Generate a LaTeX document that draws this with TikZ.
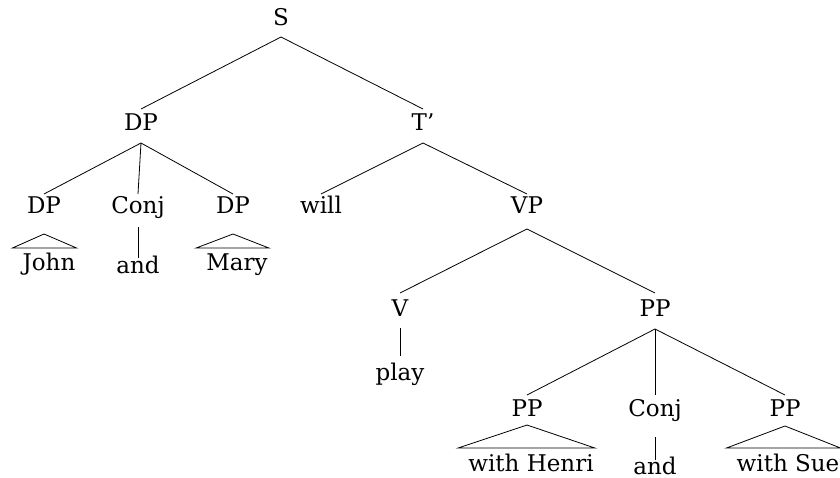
\documentclass[tikz,border=0pt]{standalone}
\usepackage{fontspec}
\setmainfont{DejaVu Serif}
\begin{document}
\begin{tikzpicture}[x=1pt,y=-1pt,
  lbl/.style={anchor=base,inner sep=0pt,font=\fontsize{23}{28}\selectfont},
  edge/.style={line width=0.8pt}]
\useasboundingbox (0,0) rectangle (840,478);
% labels
\node[lbl] (S) at (281,26) {S};
\node[lbl] (DP) at (141,131) {DP};
\node[lbl] (Tb) at (423,131) {T'};
\node[lbl] (DPa) at (44,214) {DP};
\node[lbl] (ConjA) at (138,214) {Conj};
\node[lbl] (DPb) at (233,214) {DP};
\node[lbl] (will) at (321,214) {will};
\node[lbl] (VP) at (527,214) {VP};
\node[lbl] (John) at (49,270) {John};
\node[lbl] (andA) at (138,273) {and};
\node[lbl] (Mary) at (237,270) {Mary};
\node[lbl] (V) at (400,316) {V};
\node[lbl] (PP) at (655,316) {PP};
\node[lbl] (play) at (400,380) {play};
\node[lbl] (PPa) at (527,416) {PP};
\node[lbl] (ConjB) at (655,416) {Conj};
\node[lbl] (PPb) at (785,416) {PP};
\node[lbl] (Henri) at (531,471) {with Henri};
\node[lbl] (andB) at (655,474) {and};
\node[lbl] (Sue) at (788,471) {with Sue};
% edges
\begin{scope}[edge]
\draw ([yshift=-11pt]S.base) -- ([yshift=22pt]DP.base);
\draw ([yshift=-11pt]S.base) -- ([yshift=22pt]Tb.base);
\draw ([yshift=-12pt]DP.base) -- ([yshift=20pt]DPa.base);
\draw ([yshift=-12pt]DP.base) -- ([yshift=20pt]ConjA.base);
\draw ([yshift=-12pt]DP.base) -- ([yshift=20pt]DPb.base);
\draw ([yshift=-12pt]Tb.base) -- ([yshift=20pt]will.base);
\draw ([yshift=-12pt]Tb.base) -- ([yshift=20pt]VP.base);
\draw ([yshift=-15pt]VP.base) -- ([yshift=23pt]V.base);
\draw ([yshift=-15pt]VP.base) -- ([yshift=23pt]PP.base);
\draw ([yshift=-13pt]PP.base) -- ([yshift=21pt]PPa.base);
\draw ([yshift=-13pt]PP.base) -- ([yshift=21pt]ConjB.base);
\draw ([yshift=-13pt]PP.base) -- ([yshift=21pt]PPb.base);
\draw ([yshift=-13pt]ConjA.base) -- ([yshift=15pt]andA.base);
\draw ([yshift=-21pt]ConjB.base) -- ([yshift=14pt]andB.base);
\draw ([yshift=-12pt]V.base) -- ([yshift=24pt]play.base);
% triangles
\draw ([yshift=-20pt]DPa.base) -- ([xshift=-10pt,yshift=22pt]John.base west) -- ([xshift=1pt,yshift=22pt]John.base east) -- cycle;
\draw ([yshift=-20pt]DPb.base) -- ([xshift=-10pt,yshift=22pt]Mary.base west) -- ([xshift=1pt,yshift=22pt]Mary.base east) -- cycle;
\draw ([yshift=-9pt]PPa.base) -- ([xshift=-10pt,yshift=23pt]Henri.base west) -- ([xshift=1pt,yshift=23pt]Henri.base east) -- cycle;
\draw ([yshift=-10pt]PPb.base) -- ([xshift=-10pt,yshift=23pt]Sue.base west) -- ([xshift=1pt,yshift=23pt]Sue.base east) -- cycle;
\end{scope}
\end{tikzpicture}
\end{document}
